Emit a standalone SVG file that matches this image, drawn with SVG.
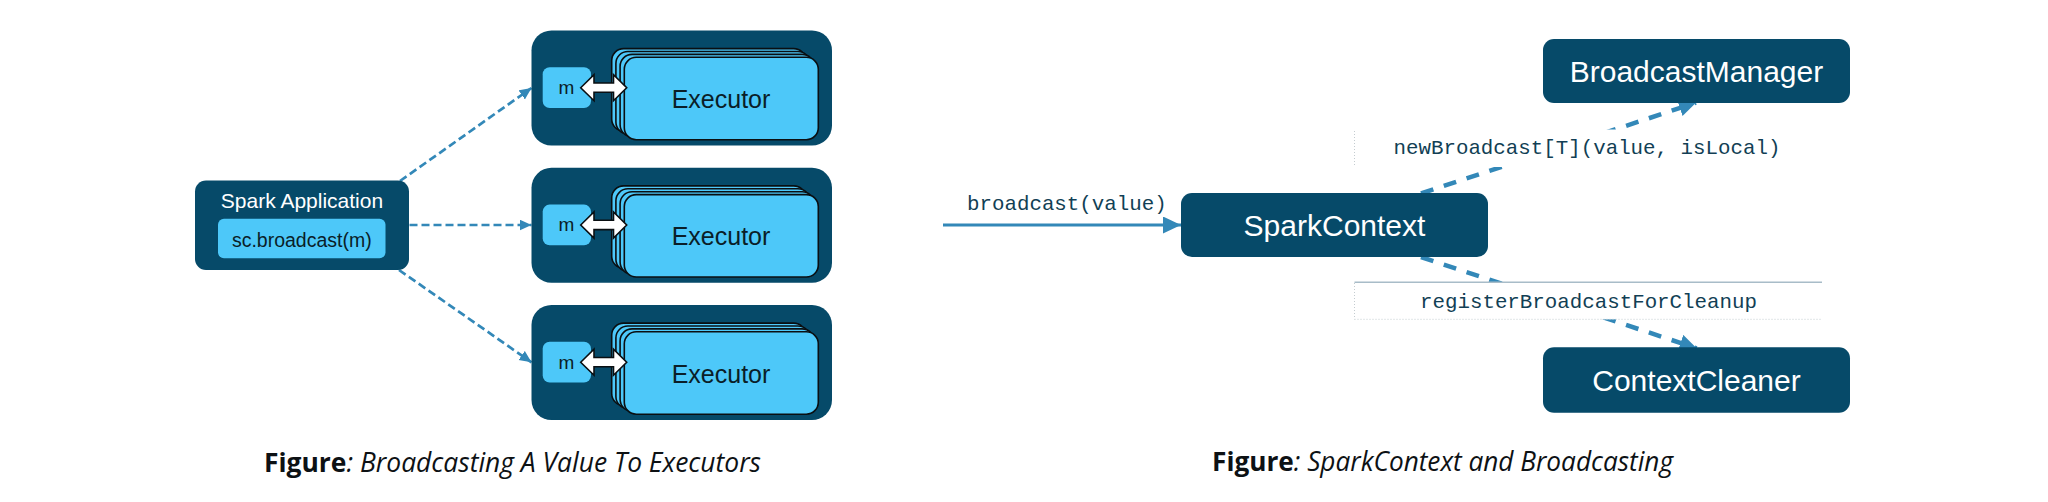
<svg xmlns="http://www.w3.org/2000/svg" width="2048" height="502" viewBox="0 0 2048 502">
<style>
.dark{fill:#064a69}
.light{fill:#4dc8f9}
.layer{fill:#4dc8f9;stroke:#0a0f12;stroke-width:1.6}
.wt{fill:#ffffff;font-family:"Liberation Sans",Arial,sans-serif}
.dt{fill:#0a1e28;font-family:"Liberation Sans",Arial,sans-serif}
.mono{fill:#123f55;font-family:"Liberation Mono","Courier New",monospace;font-size:20.8px}
.dl{fill:none;stroke:#3388b8;stroke-width:2.7;stroke-dasharray:8 4}
.dr{fill:none;stroke:#3388b8;stroke-width:4.5;stroke-dasharray:13 11}
.cap{font-family:"Open Sans","Noto Sans",sans-serif;font-size:27px;fill:#0d1114}
.dbl{fill:#ffffff;stroke:#0a0f12;stroke-width:1.6;stroke-linejoin:miter}
</style>
<defs>
<marker id="ahS" markerUnits="userSpaceOnUse" markerWidth="14" markerHeight="14" refX="12" refY="5.5" orient="auto">
<path d="M0,0 L12,5.5 L0,11 Z" fill="#3388b8"/>
</marker>
<marker id="ahL" markerUnits="userSpaceOnUse" markerWidth="20" markerHeight="20" refX="17" refY="8.5" orient="auto">
<path d="M0,0 L17,8.5 L0,17 Z" fill="#3388b8"/>
</marker>
<marker id="ahM" markerUnits="userSpaceOnUse" markerWidth="20" markerHeight="20" refX="18" refY="8.5" orient="auto">
<path d="M0,0 L18,8.5 L0,17 Z" fill="#3388b8"/>
</marker>
</defs>
<rect width="2048" height="502" fill="#ffffff"/>

<g id="connectors">
<line class="dl" x1="400" y1="181" x2="531.5" y2="88" marker-end="url(#ahS)"/>
<line class="dl" x1="409.5" y1="225" x2="531.5" y2="225" marker-end="url(#ahS)"/>
<line class="dl" x1="399" y1="270" x2="531.5" y2="362.3" marker-end="url(#ahS)"/>
<line x1="943" y1="225" x2="1181" y2="225" stroke="#3388b8" stroke-width="3" marker-end="url(#ahM)"/>
<line class="dr" x1="1421" y1="193.5" x2="1696" y2="102.7" marker-end="url(#ahL)"/>
<line class="dr" x1="1421" y1="257" x2="1696.7" y2="348.3" marker-end="url(#ahL)"/>
</g>

<g id="spark-application">
<rect class="dark" x="195" y="180.5" width="214" height="89.5" rx="11"/>
<text class="wt" x="302" y="208" font-size="21" text-anchor="middle">Spark Application</text>
<rect class="light" x="218" y="218.7" width="167.5" height="39.6" rx="6"/>
<text class="dt" x="301.8" y="246.5" font-size="19.5" text-anchor="middle">sc.broadcast(m)</text>
</g>

<g id="executor-1">
<rect class="dark" x="531.5" y="30.5" width="300.5" height="115" rx="20"/>
<rect class="light" x="542.7" y="67.3" width="48.3" height="40.7" rx="7"/>
<text class="dt" x="566.5" y="94" font-size="19" text-anchor="middle">m</text>
<rect class="layer" x="611.7" y="48.6" width="194" height="82.4" rx="12"/>
<rect class="layer" x="615.9" y="51.5" width="194" height="82.4" rx="12"/>
<rect class="layer" x="620.1" y="54.4" width="194" height="82.4" rx="12"/>
<rect class="layer" x="624.3" y="57.3" width="194" height="82.4" rx="12"/>
<text class="dt" x="721" y="108" font-size="25" text-anchor="middle">Executor</text>
<polygon class="dbl" points="580.7,87.7 594,74.7 594,83 613.5,83 613.5,74.7 626.7,87.7 613.5,100.7 613.5,92.3 594,92.3 594,100.7"/>
</g>

<g id="executor-2" transform="translate(0,137.3)">
<rect class="dark" x="531.5" y="30.5" width="300.5" height="115" rx="20"/>
<rect class="light" x="542.7" y="67.3" width="48.3" height="40.7" rx="7"/>
<text class="dt" x="566.5" y="94" font-size="19" text-anchor="middle">m</text>
<rect class="layer" x="611.7" y="48.6" width="194" height="82.4" rx="12"/>
<rect class="layer" x="615.9" y="51.5" width="194" height="82.4" rx="12"/>
<rect class="layer" x="620.1" y="54.4" width="194" height="82.4" rx="12"/>
<rect class="layer" x="624.3" y="57.3" width="194" height="82.4" rx="12"/>
<text class="dt" x="721" y="108" font-size="25" text-anchor="middle">Executor</text>
<polygon class="dbl" points="580.7,87.7 594,74.7 594,83 613.5,83 613.5,74.7 626.7,87.7 613.5,100.7 613.5,92.3 594,92.3 594,100.7"/>
</g>

<g id="executor-3" transform="translate(0,274.5)">
<rect class="dark" x="531.5" y="30.5" width="300.5" height="115" rx="20"/>
<rect class="light" x="542.7" y="67.3" width="48.3" height="40.7" rx="7"/>
<text class="dt" x="566.5" y="94" font-size="19" text-anchor="middle">m</text>
<rect class="layer" x="611.7" y="48.6" width="194" height="82.4" rx="12"/>
<rect class="layer" x="615.9" y="51.5" width="194" height="82.4" rx="12"/>
<rect class="layer" x="620.1" y="54.4" width="194" height="82.4" rx="12"/>
<rect class="layer" x="624.3" y="57.3" width="194" height="82.4" rx="12"/>
<text class="dt" x="721" y="108" font-size="25" text-anchor="middle">Executor</text>
<polygon class="dbl" points="580.7,87.7 594,74.7 594,83 613.5,83 613.5,74.7 626.7,87.7 613.5,100.7 613.5,92.3 594,92.3 594,100.7"/>
</g>

<g id="caption-1">
<text class="cap" x="264" y="472" textLength="497" lengthAdjust="spacingAndGlyphs"><tspan font-weight="bold">Figure</tspan><tspan font-style="italic">: Broadcasting A Value To Executors</tspan></text>
</g>

<g id="label-broadcast">
<text class="mono" x="967" y="210" fill="#1c2b33">broadcast(value)</text>
</g>

<g id="spark-context">
<rect class="dark" x="1181" y="193" width="307" height="64" rx="11"/>
<text class="wt" x="1334.5" y="235.5" font-size="30" text-anchor="middle">SparkContext</text>
</g>

<g id="broadcast-manager">
<rect class="dark" x="1543" y="39" width="307" height="64" rx="11"/>
<text class="wt" x="1696.5" y="81.7" font-size="30" text-anchor="middle">BroadcastManager</text>
</g>

<g id="context-cleaner">
<rect class="dark" x="1543" y="347.3" width="307" height="65.5" rx="11"/>
<text class="wt" x="1696.5" y="391.3" font-size="30" text-anchor="middle">ContextCleaner</text>
</g>

<g id="label-newBroadcast">
<rect x="1354.5" y="129.5" width="467.5" height="37.5" fill="#ffffff"/>
<line x1="1354.5" y1="131" x2="1354.5" y2="166" stroke="#c4ccd0" stroke-width="1" stroke-dasharray="1 2"/>
<text class="mono" x="1393.5" y="154">newBroadcast[T](value, isLocal)</text>
</g>

<g id="label-register">
<rect x="1354.5" y="282.3" width="467.5" height="37" fill="#ffffff"/>
<line x1="1354.5" y1="282.3" x2="1822" y2="282.3" stroke="#a8bcc8" stroke-width="1.5"/>
<line x1="1354.5" y1="283" x2="1354.5" y2="319.3" stroke="#c4ccd0" stroke-width="1" stroke-dasharray="1 2"/>
<line x1="1354.5" y1="319.3" x2="1822" y2="319.3" stroke="#c4ccd0" stroke-width="1" stroke-dasharray="1 2"/>
<text class="mono" x="1420" y="308.3">registerBroadcastForCleanup</text>
</g>

<g id="caption-2">
<text class="cap" x="1212" y="470.5" textLength="461" lengthAdjust="spacingAndGlyphs"><tspan font-weight="bold">Figure</tspan><tspan font-style="italic">: SparkContext and Broadcasting</tspan></text>
</g>
</svg>
